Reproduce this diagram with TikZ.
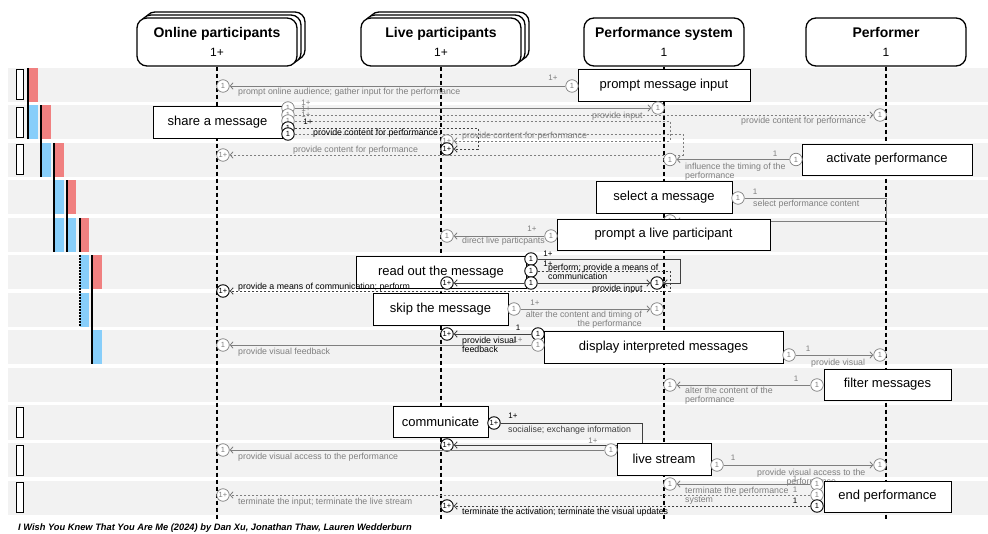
\documentclass[tikz,border=0pt]{standalone}
\usepackage{fontspec}
\setmainfont{Liberation Sans}
\usetikzlibrary{arrows.meta,positioning}
\definecolor{band}{HTML}{F2F2F2}
\definecolor{barred}{HTML}{F08080}
\definecolor{barblue}{HTML}{87CEFA}
\definecolor{msggray}{HTML}{7F7F7F}
\definecolor{msgdark}{HTML}{404040}
\tikzset{
  header/.style={draw, line width=1.3pt, rounded corners=10pt, fill=white, minimum width=160pt,
    minimum height=48pt, align=center, inner sep=0pt, font=\fontsize{14}{17}\selectfont},
  act/.style={draw, fill=white, line width=0.8pt, inner sep=0pt, font=\fontsize{13}{15}\selectfont},
  mult/.style={circle, draw=black, fill=white, line width=0.9pt, minimum size=12.5pt, inner sep=0pt,
    font=\fontsize{7.5}{7.5}\selectfont},
  gmult/.style={mult, draw=msggray, text=msggray, line width=0.7pt},
  lbl/.style={inner sep=0pt, font=\fontsize{8.8}{9.3}\selectfont, text=msggray, anchor=west, align=left},
  blbl/.style={lbl, text=black},
  card/.style={inner sep=0pt, font=\fontsize{8}{8}\selectfont, text=msggray},
  bcard/.style={card, text=black},
  msg/.style={draw=msggray, line width=0.8pt, -{Straight Barb[length=3pt,width=6.5pt]}},
  bmsg/.style={msg, draw=msgdark},
  gdash/.style={msg, dash pattern=on 2.5pt off 1.5pt},
  bdash/.style={bmsg, dash pattern=on 2.5pt off 1.5pt},
  lifeline/.style={line width=1.2pt, dash pattern=on 4pt off 3pt},
}
\begin{document}
\begin{tikzpicture}[x=1pt,y=-1pt]
\useasboundingbox (0,0) rectangle (988,534);

% rows
\foreach \r in {0,...,11}
  \fill[band] (8,68+37.5*\r) rectangle (988,102+37.5*\r);
\foreach \r in {0,1,2,9,10,11}
  \draw[line width=1pt, fill=white] (16,70+37.5*\r) rectangle (23,100+37.5*\r);
\foreach \x/\r/\c in {29/0/barred, 29/1/barblue, 42/1/barred, 42/2/barblue, 55/2/barred,
    55/3/barblue, 67/3/barred, 55/4/barblue, 67/4/barblue, 80/4/barred, 80/5/barblue,
    93/5/barred, 80/6/barblue, 93/7/barblue}
  \fill[\c] (\x,68+37.5*\r) rectangle (\x+9,102+37.5*\r);
\foreach \x/\a/\b in {28/0/1, 41/1/2, 54/2/4, 67/3/4, 80/4/4, 92/5/7}
  \draw[line width=1.3pt] (\x,68+37.5*\a) -- (\x,102+37.5*\b);
\draw[line width=1.3pt, dash pattern=on 1.5pt off 1.5pt] (80,255.5) -- (80,327);

% participants
\node[header] (onlineHeadB) at (225,36) {};
\node[header] (onlineHeadA) at (221,39) {};
\node[header] (onlineHead) at (217,42) {\textbf{Online participants}\\[2pt]{\fontsize{12}{14}\selectfont 1+}};
\node[header] (liveHeadB) at (449,36) {};
\node[header] (liveHeadA) at (445,39) {};
\node[header] (liveHead) at (441,42) {\textbf{Live participants}\\[2pt]{\fontsize{12}{14}\selectfont 1+}};
\node[header] (systemHead) at (664,42) {\textbf{Performance system}\\[2pt]{\fontsize{12}{14}\selectfont 1}};
\node[header] (performerHead) at (886,42) {\textbf{Performer}\\[2pt]{\fontsize{12}{14}\selectfont 1}};
\coordinate (onlineEnd) at (217,520);
\coordinate (liveEnd) at (441,520);
\coordinate (systemEnd) at (664,520);
\coordinate (performerEnd) at (886,520);
\draw[lifeline] (onlineHead) -- (onlineEnd);
\draw[lifeline] (liveHead) -- (liveEnd);
\draw[lifeline] (systemHead) -- (systemEnd);
\draw[lifeline] (performerHead) -- (performerEnd);

% prompt message input
\node[act, minimum width=172pt, minimum height=32pt] (promptIn) at (664,85) {prompt message input};
\node[gmult] (promptInOut) at (572,86) {1};
\node[gmult] (promptInOn) at (223,86) {1};
\draw[msg] (promptInOut) -- (promptInOn);
\node[card] (promptInM) at (553,78) {1+};
\node[lbl] (promptInL) at (238,92) {prompt online audience; gather input for the performance};

% share a message
\node[act, minimum width=129pt, minimum height=32pt] (share) at (217.5,122) {share a message};
\node[gmult] (shareA) at (288,108) {1};
\node[gmult] (shareB) at (288,115) {1};
\node[gmult] (shareC) at (288,121) {1};
\node[mult] (shareD) at (288,128) {1};
\node[mult] (shareE) at (288,134) {1};
\node[gmult] (shareSys) at (658,108) {1};
\node[gmult] (sharePf) at (880,115) {1};
\node[gmult] (shareLiA) at (447,141) {1+};
\node[mult] (shareLiB) at (447,149) {1+};
\node[gmult] (shareOn) at (223,155) {1+};
\coordinate (shareC1) at (670,121);
\coordinate (shareC2) at (670,141);
\coordinate (shareD1) at (478,128);
\coordinate (shareD2) at (478,149);
\coordinate (shareE1) at (683,134);
\coordinate (shareE2) at (683,155);
\draw[msg] (shareA) -- (shareSys);
\draw[gdash] (shareB) -- (sharePf);
\draw[gdash] (shareC) -- (shareC1) -- (shareC2) -- (shareLiA);
\draw[bdash] (shareD) -- (shareD1) -- (shareD2) -- (shareLiB);
\draw[gdash] (shareE) -- (shareE1) -- (shareE2) -- (shareOn);
\node[card] (shareAM) at (306,103) {1+};
\node[card] (shareBM) at (306,109) {1+};
\node[card] (shareCM) at (306,115) {1+};
\node[bcard] (shareDM) at (308,122) {1+};
\node[lbl] (shareAL) at (592,116) {provide input};
\node[lbl] (shareBL) at (741,121) {provide content for performance};
\node[lbl] (shareCL) at (462,136.5) {provide content for performance};
\node[blbl] (shareDL) at (313,133) {provide content for performance};
\node[lbl] (shareEL) at (293,150) {provide content for performance};

% activate performance
\node[act, minimum width=170pt, minimum height=31pt] (activate) at (887,159.5) {activate performance};
\node[gmult] (activateOut) at (796,159.5) {1};
\node[gmult] (activateSys) at (670,159.5) {1};
\draw[msg] (activateOut) -- (activateSys);
\node[card] (activateM) at (775,154) {1};
\node[lbl] (activateL) at (685,171.5) {influence the timing of the\\performance};

% select a message
\node[act, minimum width=136pt, minimum height=32pt] (select) at (664,197) {select a message};
\node[gmult] (selectOut) at (738,198) {1};
\node[gmult] (selectSys) at (670,221) {1};
\coordinate (select1) at (886,198);
\coordinate (select2) at (886,221);
\draw[msg] (selectOut) -- (select1) -- (select2) -- (selectSys);
\node[card] (selectM) at (755,192) {1};
\node[lbl] (selectL) at (753,204) {select performance content};

% prompt a live participant
\node[act, minimum width=213pt, minimum height=31pt] (promptLi) at (663.5,234.5) {prompt a live participant};
\node[gmult] (promptLiOut) at (551,236) {1};
\node[gmult] (promptLiLi) at (447,236) {1};
\draw[msg] (promptLiOut) -- (promptLiLi);
\node[card] (promptLiM) at (532,229) {1+};
\node[lbl] (promptLiL) at (462,241) {direct live particpants};

% read out the message
\node[act, minimum width=170pt, minimum height=32pt] (readOut) at (441,272) {read out the message};
\node[mult] (readA) at (531,259) {1};
\node[mult] (readB) at (531,271) {1};
\node[mult] (readC) at (531,283) {1};
\node[mult] (readSys) at (657,283) {1};
\node[mult] (readLi) at (447,283) {1+};
\node[mult] (readOn) at (223,291) {1+};
\coordinate (readA1) at (680,259);
\coordinate (readA2) at (680,283);
\coordinate (readB1) at (670,271);
\coordinate (readB2) at (670,291);
\draw[bmsg] (readA) -- (readA1) -- (readA2) -- (readSys);
\draw[bdash] (readB) -- (readB1) -- (readB2) -- (readOn);
\draw[bmsg] (readC) -- (readSys);
\draw[bmsg] (readC) -- (readLi);
\node[bcard] (readAM) at (548,254) {1+};
\node[bcard] (readBM) at (548,264) {1+};
\node[blbl] (readAL) at (548,272) {perform; provide a means of\\communication};
\node[blbl] (readCL) at (592,289) {provide input};
\node[blbl] (readBL) at (238,287) {provide a means of communication; perform};

% skip the message
\node[act, minimum width=135pt, minimum height=32pt] (skip) at (440.5,309) {skip the message};
\node[gmult] (skipOut) at (514,309) {1};
\node[gmult] (skipSys) at (657,309) {1};
\draw[msg] (skipOut) -- (skipSys);
\node[card] (skipM) at (535,303) {1+};
\node[lbl, anchor=east, align=right] (skipL) at (642,319.5) {alter the content and timing of\\the performance};

% display interpreted messages
\node[act, minimum width=239pt, minimum height=32pt] (display) at (663.5,347) {display interpreted messages};
\node[mult] (displayA) at (538,334) {1};
\node[gmult] (displayB) at (538,345) {1};
\node[mult] (displayLi) at (447,334) {1+};
\node[gmult] (displayOn) at (223,345) {1};
\node[gmult] (displayC) at (789,355) {1};
\node[gmult] (displayPf) at (880,355) {1};
\draw[bmsg] (displayA) -- (displayLi);
\draw[msg] (displayB) -- (displayOn);
\draw[msg] (displayC) -- (displayPf);
\node[bcard] (displayAM) at (518,328) {1};
\node[card] (displayBM) at (518,340) {1+};
\node[card] (displayCM) at (808,349) {1};
\node[blbl] (displayAL) at (462,345) {provide visual\\feedback};
\node[lbl] (displayBL) at (238,352) {provide visual feedback};
\node[lbl] (displayCL) at (811,363) {provide visual};

% filter messages
\node[act, minimum width=127pt, minimum height=31pt] (filter) at (887.5,384.5) {filter messages};
\node[gmult] (filterOut) at (817,385) {1};
\node[gmult] (filterSys) at (670,385) {1};
\draw[msg] (filterOut) -- (filterSys);
\node[card] (filterM) at (796,379) {1};
\node[lbl] (filterL) at (685,395.5) {alter the content of the\\performance};

% communicate
\node[act, minimum width=95pt, minimum height=31pt] (communicate) at (440.5,421.5) {communicate};
\node[mult] (communicateOut) at (494,423) {1+};
\node[mult] (communicateLi) at (447,445) {1+};
\coordinate (communicate1) at (642,423);
\coordinate (communicate2) at (642,445);
\draw[bmsg] (communicateOut) -- (communicate1) -- (communicate2) -- (communicateLi);
\node[bcard] (communicateM) at (513,416) {1+};
\node[lbl, text=msgdark] (communicateL) at (508,430) {socialise; exchange information};
\node[card] (communicateN) at (593,441) {1+};

% live stream
\node[act, minimum width=94pt, minimum height=32pt] (stream) at (664,459) {live stream};
\node[gmult] (streamA) at (611,450) {1};
\node[gmult] (streamOn) at (223,450) {1};
\node[gmult] (streamB) at (717,465) {1};
\node[gmult] (streamPf) at (880,465) {1};
\draw[msg] (streamA) -- (streamOn);
\draw[msg] (streamB) -- (streamPf);
\node[lbl] (streamAL) at (238,457) {provide visual access to the performance};
\node[card] (streamBM) at (733,458) {1};
\node[lbl, align=center] (streamBL) at (757,477.5) {provide visual access to the\\performance};

% end performance
\node[act, minimum width=127pt, minimum height=31pt] (endPerf) at (887.5,496.5) {end performance};
\node[gmult] (endA) at (817,484) {1};
\node[gmult] (endB) at (817,495) {1};
\node[mult] (endC) at (817,506) {1};
\node[gmult] (endSys) at (670,484) {1};
\node[gmult] (endOn) at (223,495) {1+};
\node[mult] (endLi) at (447,506) {1+};
\draw[msg] (endA) -- (endSys);
\draw[gdash] (endB) -- (endOn);
\draw[bdash] (endC) -- (endLi);
\node[card] (endAM) at (795,479) {1};
\node[card] (endBM) at (795,490) {1};
\node[bcard] (endCM) at (795,501) {1};
\node[lbl] (endAL) at (685,495.5) {terminate the performance\\system};
\node[lbl] (endBL) at (238,502) {terminate the input; terminate the live stream};
\node[blbl] (endCL) at (462,512) {terminate the activation; terminate the visual updates};

\node[inner sep=0pt, anchor=west, font=\fontsize{9.3}{11}\selectfont\bfseries\itshape] (credit) at (18,528)
  {I Wish You Knew That You Are Me (2024) by Dan Xu, Jonathan Thaw, Lauren Wedderburn};
\end{tikzpicture}
\end{document}
